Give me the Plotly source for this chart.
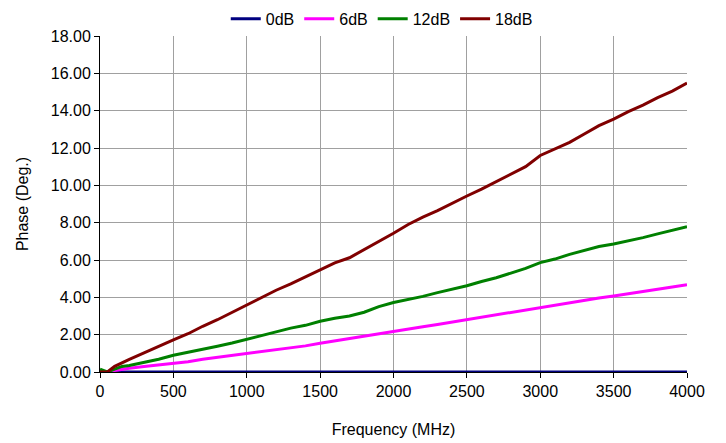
import plotly.graph_objects as go

freq = [0, 50, 100, 150, 200, 300, 400, 500, 600, 700, 800, 900, 1000, 1100, 1200,
        1300, 1400, 1500, 1600, 1700, 1800, 1900, 2000, 2100, 2200, 2300, 2400, 2500,
        2600, 2700, 2800, 2900, 3000, 3100, 3200, 3300, 3400, 3500, 3600, 3700, 3800,
        3900, 4000]

db0 = [0.0] * len(freq)

db6 = [0.0, 0.0, 0.08, 0.16, 0.2, 0.3, 0.38, 0.46, 0.55, 0.68, 0.78, 0.86, 0.96, 1.08,
       1.2, 1.3, 1.4, 1.54, 1.66, 1.78, 1.9, 2.05, 2.16, 2.3, 2.42, 2.55, 2.68, 2.79,
       2.92, 3.05, 3.2, 3.33, 3.46, 3.6, 3.72, 3.85, 3.96, 4.07, 4.18, 4.3, 4.42, 4.55,
       4.68]

db12 = [0.15, 0.0, 0.15, 0.3, 0.35, 0.5, 0.68, 0.9, 1.05, 1.2, 1.38, 1.55, 1.75, 1.95,
        2.15, 2.35, 2.5, 2.72, 2.88, 3.0, 3.2, 3.5, 3.72, 3.88, 4.05, 4.25, 4.42, 4.62,
        4.85, 5.05, 5.3, 5.55, 5.86, 6.05, 6.3, 6.5, 6.72, 6.86, 7.02, 7.2, 7.4, 7.6,
        7.78]

db18 = [0.0, 0.0, 0.3, 0.5, 0.68, 1.02, 1.38, 1.72, 2.05, 2.45, 2.8, 3.2, 3.62, 4.0,
        4.38, 4.72, 5.1, 5.46, 5.85, 6.12, 6.55, 6.98, 7.43, 7.9, 8.3, 8.65, 9.05, 9.43,
        9.8, 10.2, 10.6, 11.0, 11.6, 11.95, 12.3, 12.75, 13.2, 13.55, 13.95, 14.3, 14.7,
        15.05, 15.48]

x_ticks = [0, 500, 1000, 1500, 2000, 2500, 3000, 3500, 4000]
y_ticks = [0, 2, 4, 6, 8, 10, 12, 14, 16, 18]

series = [("0dB", db0, "#000080"), ("6dB", db6, "#FF00FF"),
          ("12dB", db12, "#008000"), ("18dB", db18, "#800000")]

fig = go.Figure()
for name, vals, color in series:
    fig.add_trace(go.Scatter(x=freq, y=vals, name=name, mode="lines",
                             line=dict(color=color, width=3)))

fig.update_layout(
    width=718, height=435,
    margin=dict(l=92, r=39, t=28, b=71),
    paper_bgcolor="white", plot_bgcolor="white",
    font=dict(family="Liberation Sans, Arial, sans-serif", size=16, color="black"),
    showlegend=True,
    legend=dict(orientation="h", x=0.48, xanchor="center",
                yref="container", y=0.975, yanchor="middle",
                font=dict(size=16), itemwidth=30, tracegroupgap=0,
                bgcolor="rgba(0,0,0,0)"),
)
fig.update_xaxes(range=[0, 4000], tickvals=x_ticks, showgrid=True, gridcolor="#a0a0a0",
                 gridwidth=1, zeroline=False, showline=True, linecolor="black",
                 linewidth=1, ticks="outside", ticklen=5, tickcolor="black",
                 automargin=False,
                 title=dict(text="Frequency (MHz)", font=dict(size=16), standoff=24))
fig.update_yaxes(range=[0, 18], tickvals=y_ticks, tickformat=".2f", showgrid=True,
                 gridcolor="#a0a0a0", gridwidth=1, zeroline=False, showline=True,
                 linecolor="black", linewidth=1, ticks="outside", ticklen=5,
                 tickcolor="black", automargin=False,
                 title=dict(text="Phase (Deg.)", font=dict(size=16), standoff=18))

fig.write_html("out.html")
